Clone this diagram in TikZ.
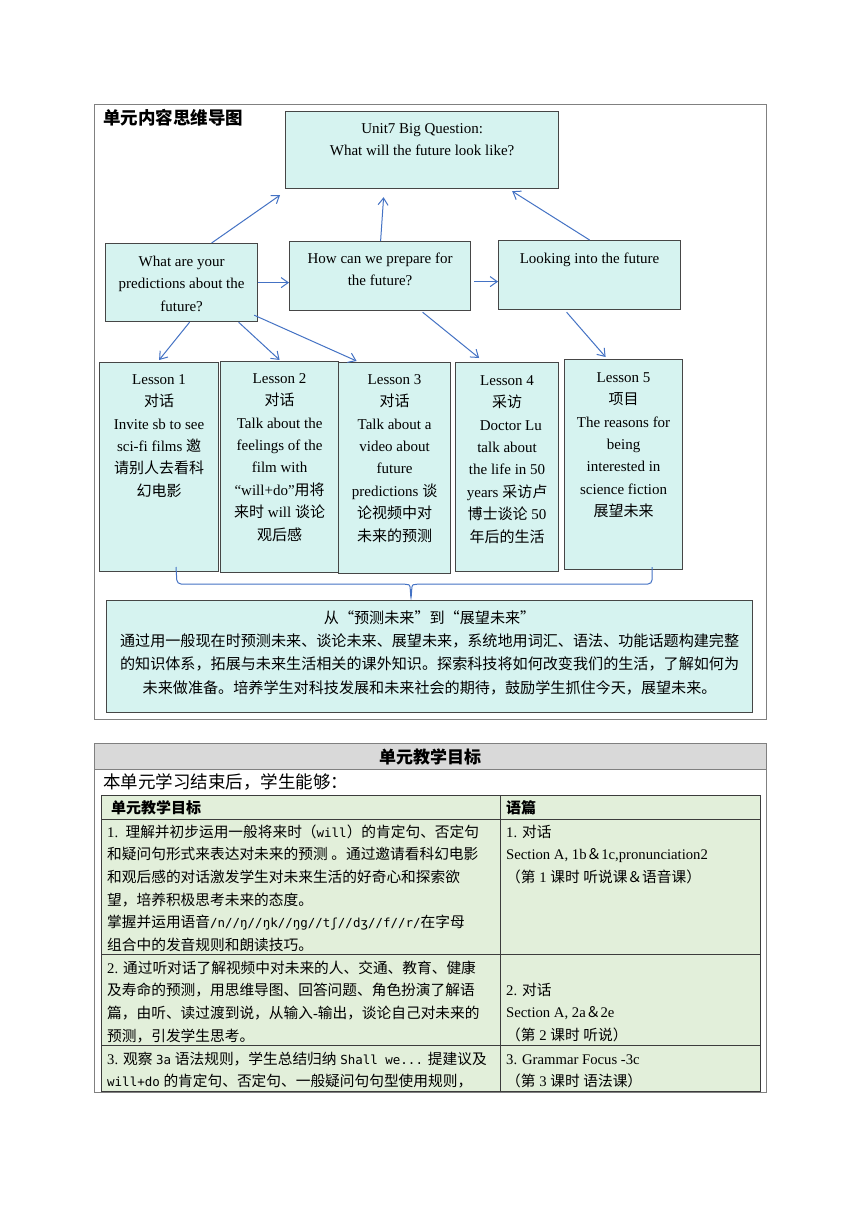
\documentclass[tikz,border=0pt]{standalone}
\usepackage{fontspec}
\setmainfont{Liberation Serif}
\newfontfamily\cjk{Noto Sans CJK SC}
\newfontfamily\monofnt[Scale=0.85]{DejaVu Sans Mono}
\newcommand{\monotxt}[1]{{\monofnt #1}}
\usetikzlibrary{arrows.meta,positioning}

\XeTeXinterchartokenstate=1
\chardef\cjkcls=7
\newcount\cjkc
\def\setclassrange#1#2#3{\cjkc=#1 \loop\XeTeXcharclass\cjkc=#3 \advance\cjkc by 1 \ifnum\cjkc<#2 \repeat}
\setclassrange{"2000}{"2070}{0}
\setclassrange{"2E80}{"A000}{\cjkcls}
\setclassrange{"FF00}{"FFF0}{\cjkcls}
\XeTeXinterchartoks 0 \cjkcls = {\begingroup\cjk}
\XeTeXinterchartoks 4095 \cjkcls = {\begingroup\cjk}
\XeTeXinterchartoks \cjkcls 0 = {\endgroup}
\XeTeXinterchartoks \cjkcls 4095 = {\endgroup}

\definecolor{boxcyan}{RGB}{214,243,240}
\definecolor{boxgray}{RGB}{70,70,70}
\definecolor{framegray}{RGB}{128,128,128}
\definecolor{arrblue}{RGB}{68,114,196}
\definecolor{headgray}{RGB}{217,217,217}
\definecolor{tabgreen}{RGB}{226,239,218}
\definecolor{tabline}{RGB}{60,60,60}

\begin{document}
\begin{tikzpicture}[x=1pt, y=-1pt,
  box/.style={draw=boxgray, fill=boxcyan, line width=1.2pt, inner sep=0pt, anchor=north west},
  txt/.style={align=center, inner sep=0pt, anchor=north, font=\fontsize{15}{22.4}\selectfont},
  tabtxt/.style={align=left, inner sep=0pt, anchor=north west, font=\fontsize{14.7}{22.6}\selectfont},
  arr/.style={draw=arrblue, line width=1pt, -{Straight Barb[length=7pt,width=10pt]}}]
    \useasboundingbox (0,0) rectangle (860,1216);
    \fill[white] (0,0) rectangle (860,1216);

    \draw[framegray, line width=1pt] (94,104) rectangle (766,719);
    \node[anchor=base west, inner sep=0pt, font=\fontsize{17.5}{20}\selectfont\bfseries] (maptitle) at (103,124) {单元内容思维导图};

    \node[box, minimum width=273pt, minimum height=77pt] (big) at (285,111) {};
    \node[txt] (bigtxt) at ([yshift=-8pt]big.north) {\rule{0pt}{14pt}Unit7 Big Question:\\What will the future look like?};

    \node[box, minimum width=152pt, minimum height=78pt] (qA) at (105,243) {};
    \node[box, minimum width=181pt, minimum height=69pt] (qB) at (289,241) {};
    \node[box, minimum width=182pt, minimum height=69pt] (qC) at (498,240) {};
    \node[txt] (qAtxt) at ([yshift=-9pt]qA.north) {\rule{0pt}{14pt}What are your\\predictions about the\\future?};
    \node[txt] (qBtxt) at ([yshift=-8pt]qB.north) {\rule{0pt}{14pt}How can we prepare for\\the future?};
    \node[txt] (qCtxt) at ([yshift=-9pt]qC.north) {\rule{0pt}{14pt}Looking into the future};

    \foreach \n/\x/\y/\w/\h in {1/99/362/119/209, 2/220/361/118/211, 3/338/362/112/211, 4/455/362/103/209, 5/564/359/118/210}
      \node[box, minimum width=\w pt, minimum height=\h pt] (L\n) at (\x,\y) {};

    \node[txt] (L1txt) at ([yshift=-8pt]L1.north) {\rule{0pt}{14pt}Lesson 1\\对话\\Invite sb to see\\sci-fi films 邀\\请别人去看科\\幻电影};
    \node[txt] (L2txt) at ([yshift=-8pt]L2.north) {\rule{0pt}{14pt}Lesson 2\\对话\\Talk about the\\feelings of the\\film with\\“will+do”用将\\来时 will 谈论\\观后感};
    \node[txt] (L3txt) at ([yshift=-8pt]L3.north) {\rule{0pt}{14pt}Lesson 3\\对话\\Talk about a\\video about\\future\\predictions 谈\\论视频中对\\未来的预测};
    \node[txt] (L4txt) at ([yshift=-9pt]L4.north) {\rule{0pt}{14pt}Lesson 4\\采访\\\ \ Doctor Lu\\talk about\\the life in 50\\years 采访卢\\博士谈论 50\\年后的生活};
    \node[txt] (L5txt) at ([yshift=-9pt]L5.north) {\rule{0pt}{14pt}Lesson 5\\项目\\The reasons for\\being\\interested in\\science fiction\\展望未来};

    \draw[arr] ([xshift=30pt]qA.north) -- ([shift={(-5pt,-6pt)}]big.south west);
    \draw[arr] ([xshift=0.5pt]qB.north) -- ([shift={(-38.5pt,-8pt)}]big.south);
    \draw[arr] (qC.north) -- ([shift={(-47pt,-2pt)}]big.south east);
    \draw[arr] (qA.east) -- (qA.east -| qB.west);
    \draw[arr] ([shift={(3pt,-5.5pt)}]qB.east) -- ([yshift=-5.5pt]qB.east -| qC.west);
    \draw[arr] ([xshift=8pt]qA.south) -- ([yshift=2pt]L1.north);
    \draw[arr] ([xshift=57pt]qA.south) -- ([yshift=1pt]L2.north);
    \draw[arr] ([shift={(-4pt,7pt)}]qA.south east) -- ([shift={(-38pt,1pt)}]L3.north);
    \draw[arr] ([shift={(42.5pt,-1pt)}]qB.south) -- ([shift={(-28pt,4pt)}]L4.north);
    \draw[arr] ([shift={(-23pt,-2pt)}]qC.south) -- ([shift={(-18pt,2pt)}]L5.north);

    \draw[arrblue, line width=1pt, rounded corners=4pt] (176,567) -- (177,584) -- (405,584)
      .. controls (410,585) .. (411,600) .. controls (412,585) .. (417,584) -- (652,584) -- (652,567);

    \node[box, minimum width=646pt, minimum height=112pt] (sum) at (106,600) {};
    \node[txt, font=\fontsize{15.1}{23.3}\selectfont] (sumtxt) at ([yshift=-9pt]sum.north) {\rule{0pt}{14pt}{\cjk 从“预测未来”到“展望未来”}\\
      通过用一般现在时预测未来、谈论未来、展望未来，系统地用词汇、语法、功能话题构建完整\\
      的知识体系，拓展与未来生活相关的课外知识。探索科技将如何改变我们的生活，了解如何为\\
      未来做准备。培养学生对科技发展和未来社会的期待，鼓励学生抓住今天，展望未来。};

    \draw[framegray, line width=1pt] (94,743) rectangle (766,1092);
    \fill[headgray] (94.5,743.5) rectangle (765.5,769);
    \draw[framegray, line width=1pt] (94,769) -- (766,769);
    \node[anchor=base, inner sep=0pt, font=\fontsize{17}{20}\selectfont\bfseries] (goalhead) at (430,763) {单元教学目标};
    \node[anchor=base west, inner sep=0pt, font=\fontsize{17.5}{20}\selectfont] (goalintro) at (103,788) {本单元学习结束后，学生能够：};

    \fill[tabgreen] (101,795) rectangle (760,1091);
    \draw[tabline, line width=0.8pt] (101,795) rectangle (760,1091);
    \foreach \y in {819,954,1045}
      \draw[tabline, line width=0.8pt] (101,\y) -- (760,\y);
    \draw[tabline, line width=0.8pt] (500,795) -- (500,1091);

    \node[anchor=base west, inner sep=0pt, font=\fontsize{15}{20}\selectfont\bfseries] (colgoal) at (111,813) {单元教学目标};
    \node[anchor=base west, inner sep=0pt, font=\fontsize{15}{20}\selectfont\bfseries] (coltext) at (506,813) {语篇};

    \node[tabtxt] (goal1) at (107,823) {\rule{0pt}{14pt}1.\ \ 理解并初步运用一般将来时（\monotxt{will}）的肯定句、否定句\\
      和疑问句形式来表达对未来的预测 。通过邀请看科幻电影\\
      和观后感的对话激发学生对未来生活的好奇心和探索欲\\
      望，培养积极思考未来的态度。\\
      掌握并运用语音\monotxt{/n//ŋ//ŋk//ŋg//tʃ//dʒ//f//r/}在字母\\
      组合中的发音规则和朗读技巧。};
    \node[tabtxt] (text1) at (506,823) {\rule{0pt}{14pt}1. 对话\\Section A, 1b＆1c,pronunciation2\\（第 1 课时 听说课＆语音课）};

    \node[tabtxt] (goal2) at (107,959) {\rule{0pt}{14pt}2. 通过听对话了解视频中对未来的人、交通、教育、健康\\
      及寿命的预测，用思维导图、回答问题、角色扮演了解语\\
      篇，由听、读过渡到说，从输入-输出，谈论自己对未来的\\
      预测，引发学生思考。};
    \node[tabtxt] (text2) at (506,981) {\rule{0pt}{14pt}2. 对话\\Section A, 2a＆2e\\（第 2 课时 听说）};

    \node[tabtxt] (goal3) at (107,1050) {\rule{0pt}{14pt}3. 观察 \monotxt{3a} 语法规则，学生总结归纳 \monotxt{Shall we...} 提建议及\\
      \monotxt{will+do} 的肯定句、否定句、一般疑问句句型使用规则，};
    \node[tabtxt] (text3) at (506,1050) {\rule{0pt}{14pt}3. Grammar Focus -3c\\（第 3 课时 语法课）};
\end{tikzpicture}
\end{document}
